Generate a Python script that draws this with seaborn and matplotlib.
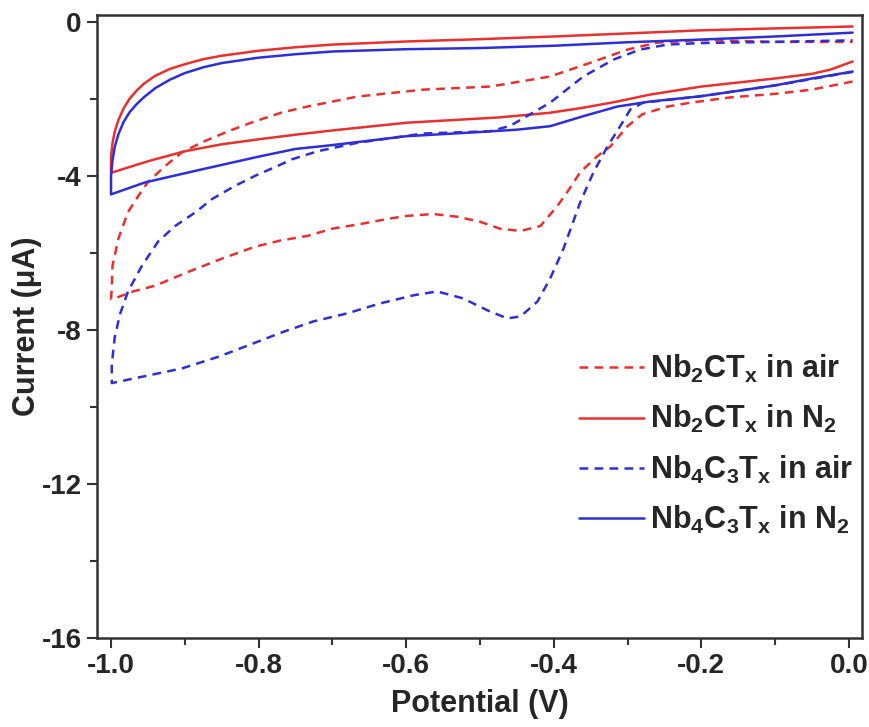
import matplotlib
matplotlib.use("Agg")
import matplotlib.pyplot as plt
import seaborn as sns
from matplotlib.ticker import MultipleLocator

sns.set_style("ticks")
plt.rcParams["font.family"] = ["Liberation Sans", "DejaVu Sans"]
plt.rcParams["font.weight"] = "bold"
plt.rcParams["mathtext.fontset"] = "custom"
plt.rcParams["mathtext.rm"] = "Liberation Sans:bold"
plt.rcParams["mathtext.bf"] = "Liberation Sans:bold"
plt.rcParams["mathtext.default"] = "bf"
plt.rcParams["axes.unicode_minus"] = False

# Nb2CTx in air (dashed red): cathodic sweep 0 -> -1 V, then back to 0 V
nb2_air_v = [0.005, -0.05, -0.1, -0.16, -0.215, -0.246, -0.28, -0.3, -0.323, -0.341,
             -0.364, -0.382, -0.395, -0.418, -0.445, -0.473, -0.5, -0.531, -0.563, -0.6,
             -0.626, -0.662, -0.7, -0.734, -0.771, -0.805, -0.85, -0.895, -0.94, -0.97,
             -0.995, -1.0, -0.999, -0.998, -0.99, -0.977, -0.963, -0.95, -0.927, -0.904,
             -0.877, -0.841, -0.809, -0.768, -0.734, -0.666, -0.577, -0.486, -0.405, -0.35,
             -0.3, -0.26, -0.2, -0.1, 0.005]
nb2_air_i = [-1.55, -1.76, -1.87, -1.96, -2.1, -2.2, -2.4, -2.71, -3.23, -3.49,
             -3.9, -4.43, -4.78, -5.3, -5.43, -5.37, -5.19, -5.06, -4.99, -5.04,
             -5.12, -5.25, -5.37, -5.56, -5.68, -5.84, -6.15, -6.49, -6.85, -7.0,
             -7.18, -7.2, -6.9, -6.33, -5.63, -4.94, -4.52, -4.16, -3.75, -3.39,
             -3.13, -2.84, -2.61, -2.35, -2.2, -1.94, -1.76, -1.68, -1.42, -1.06,
             -0.72, -0.54, -0.47, -0.52, -0.52]

# Nb2CTx in N2 (solid red)
nb2_n2_v = [0.005, -0.025, -0.05, -0.1, -0.2, -0.27, -0.314, -0.36, -0.405, -0.473,
            -0.6, -0.7, -0.75, -0.8, -0.85, -0.9, -0.95, -1.0, -1.0, -0.998,
            -0.995, -0.99, -0.983, -0.975, -0.965, -0.955, -0.94, -0.92, -0.9, -0.875,
            -0.85, -0.8, -0.75, -0.7, -0.6, -0.5, -0.4, -0.3, -0.2, -0.1, 0.005]
nb2_n2_i = [-1.03, -1.24, -1.35, -1.47, -1.68, -1.89, -2.07, -2.23, -2.36, -2.48,
            -2.62, -2.82, -2.93, -3.05, -3.18, -3.36, -3.62, -3.92, -3.5, -3.15,
            -2.85, -2.55, -2.25, -2.0, -1.78, -1.6, -1.4, -1.22, -1.1, -0.97,
            -0.88, -0.75, -0.66, -0.59, -0.51, -0.45, -0.38, -0.3, -0.22, -0.17, -0.12]

# Nb4C3Tx in air (dashed blue)
nb4_air_v = [0.005, -0.1, -0.2, -0.279, -0.296, -0.31, -0.327, -0.346, -0.364, -0.387,
             -0.405, -0.422, -0.445, -0.463, -0.49, -0.523, -0.558, -0.59, -0.635, -0.68,
             -0.726, -0.768, -0.814, -0.855, -0.904, -0.954, -0.999, -0.999, -0.995, -0.988,
             -0.977, -0.958, -0.936, -0.913, -0.886, -0.863, -0.832, -0.805, -0.774, -0.755,
             -0.72, -0.666, -0.577, -0.486, -0.459, -0.405, -0.36, -0.319, -0.283, -0.246,
             -0.2, -0.1, 0.005]
nb4_air_i = [-1.3, -1.65, -1.93, -2.1, -2.27, -2.71, -3.23, -3.9, -4.68, -5.9,
             -6.67, -7.26, -7.65, -7.7, -7.49, -7.18, -7.0, -7.1, -7.31, -7.57,
             -7.78, -8.06, -8.4, -8.7, -9.0, -9.2, -9.38, -8.9, -8.2, -7.6,
             -7.0, -6.33, -5.7, -5.3, -4.95, -4.6, -4.26, -4.0, -3.74, -3.57,
             -3.36, -3.14, -2.9, -2.84, -2.7, -2.1, -1.42, -0.98, -0.72, -0.59,
             -0.55, -0.52, -0.48]

# Nb4C3Tx in N2 (solid blue)
nb4_n2_v = [0.005, -0.05, -0.1, -0.2, -0.27, -0.314, -0.36, -0.405, -0.45, -0.5,
            -0.6, -0.7, -0.75, -0.8, -0.886, -0.954, -1.0, -1.0, -0.998, -0.995,
            -0.99, -0.983, -0.975, -0.965, -0.955, -0.94, -0.92, -0.9, -0.875, -0.85,
            -0.8, -0.75, -0.7, -0.6, -0.5, -0.4, -0.3, -0.2, -0.1, 0.005]
nb4_n2_i = [-1.29, -1.47, -1.65, -1.93, -2.07, -2.2, -2.45, -2.71, -2.8, -2.86,
            -2.97, -3.2, -3.3, -3.5, -3.87, -4.17, -4.48, -4.0, -3.6, -3.25,
            -2.92, -2.6, -2.35, -2.13, -1.95, -1.72, -1.5, -1.33, -1.18, -1.07,
            -0.93, -0.84, -0.77, -0.71, -0.68, -0.62, -0.53, -0.46, -0.38, -0.28]

curves = [
    (nb2_air_v, nb2_air_i, "#e8312f", (0, (3.5, 2.5)), r"Nb$_2$CT$_x$ in air"),
    (nb2_n2_v, nb2_n2_i, "#e8312f", "-", r"Nb$_2$CT$_x$ in N$_2$"),
    (nb4_air_v, nb4_air_i, "#2e2ed6", (0, (3.5, 2.5)), r"Nb$_4$C$_3$T$_x$ in air"),
    (nb4_n2_v, nb4_n2_i, "#2e2ed6", "-", r"Nb$_4$C$_3$T$_x$ in N$_2$"),
]

fig = plt.figure(figsize=(8.7, 7.27), dpi=100)
ax = fig.add_axes([0.1115, 0.1224, 0.8795, 0.8576])

for v, i, c, ls, lab in curves:
    sns.lineplot(x=v, y=i, sort=False, estimator=None, color=c, linestyle=ls,
                 linewidth=1.8, label=lab, ax=ax)

ax.set_xlim(-1.019, 0.018)
ax.set_ylim(-16, 0.19)
ax.xaxis.set_minor_locator(MultipleLocator(0.1))
ax.yaxis.set_minor_locator(MultipleLocator(2))
ax.set_xticks([-1.0, -0.8, -0.6, -0.4, -0.2, 0.0])
ax.set_xticklabels(["-1.0", "-0.8", "-0.6", "-0.4", "-0.2", "0.0"])
ax.set_yticks([0, -4, -8, -12, -16])
ax.set_yticklabels(["0", "-4", "-8", "-12", "-16"])
ax.tick_params(which="major", direction="out", length=7, width=1.5,
               labelsize=20, color="#333333", pad=4)
ax.tick_params(which="minor", direction="out", length=5, width=1.5, color="#333333")
for s in ax.spines.values():
    s.set_linewidth(1.8)
    s.set_color("#333333")

ax.set_xlabel("Potential (V)", fontsize=22, fontweight="bold", labelpad=7)
ax.set_ylabel("Current (\u03bcA)", fontsize=22, fontweight="bold", labelpad=0)

ax.legend(loc="upper right", bbox_to_anchor=(1.008, 0.482), frameon=False,
          fontsize=22, handlelength=2.1, handletextpad=0.2, labelspacing=0.6,
          borderaxespad=0.1)

fig.savefig("out.png", dpi=100)
